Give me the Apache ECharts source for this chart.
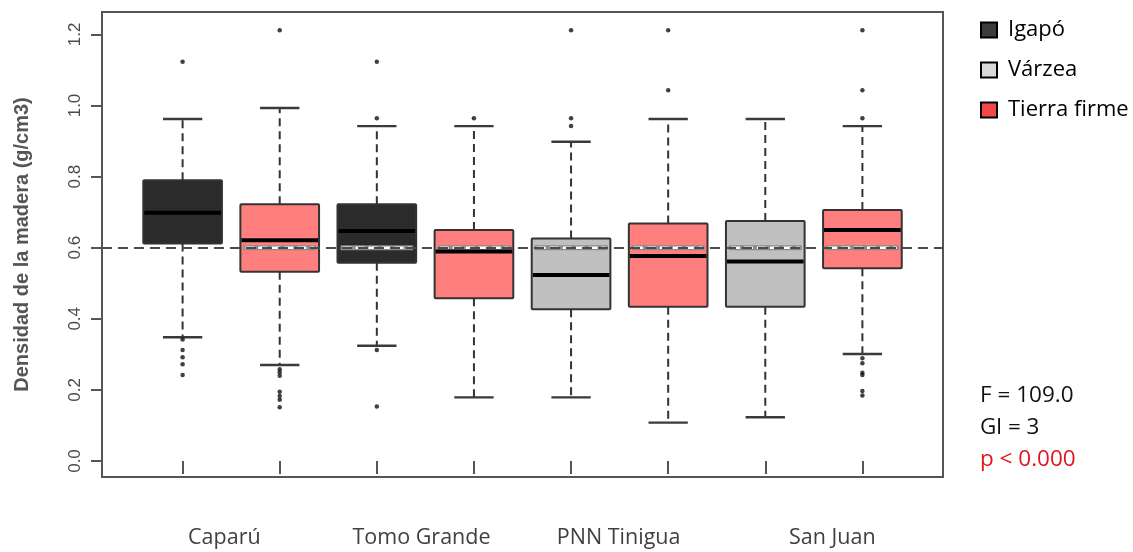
<!DOCTYPE html>
<html>
<head>
<meta charset="utf-8">
<script src="https://cdn.jsdelivr.net/npm/echarts@6/dist/echarts.min.js"></script>
<style>
html,body{margin:0;padding:0;background:#fff;}
#chart{width:1133px;height:552px;}
</style>
</head>
<body>
<div id="chart"></div>
<script>
// ---- data ----
const sites = ['Caparú', 'Tomo Grande', 'PNN Tinigua', 'San Juan'];
const habitats = ['Igapó', 'Várzea', 'Tierra firme'];
const boxPos = [1, 2, 3, 4, 5, 6, 7, 8];
const boxHabitat = ['Igapó', 'Tierra firme', 'Igapó', 'Tierra firme', 'Várzea', 'Tierra firme', 'Várzea', 'Tierra firme'];
const whiskerLow  = [0.348, 0.270, 0.324, 0.179, 0.179, 0.108, 0.123, 0.301];
const quart1      = [0.612, 0.532, 0.558, 0.458, 0.427, 0.434, 0.434, 0.542];
const medians     = [0.698, 0.621, 0.647, 0.589, 0.523, 0.577, 0.561, 0.650];
const quart3      = [0.790, 0.722, 0.722, 0.650, 0.626, 0.668, 0.675, 0.706];
const whiskerHigh = [0.962, 0.993, 0.942, 0.942, 0.898, 0.962, 0.962, 0.942];
const outliers = [
  [1.123, 0.342, 0.312, 0.292, 0.272, 0.242],
  [1.212, 0.258, 0.250, 0.240, 0.195, 0.183, 0.172, 0.151],
  [1.123, 0.964, 0.312, 0.153],
  [0.964],
  [1.212, 0.964, 0.942],
  [1.212, 1.043],
  [],
  [1.212, 1.043, 0.964, 0.289, 0.275, 0.248, 0.242, 0.197, 0.184]
];
const refValue = 0.6;
const yTicks = [0, 0.2, 0.4, 0.6, 0.8, 1.0, 1.2];
const statLines = ['F = 109.0', 'Gl = 3', 'p < 0.000'];

// ---- layout / style ----
const siteLabelPos = [1.43, 3.46, 5.49, 7.69];
const boxFill = { 'Igapó': '#2b2b2b', 'Várzea': '#c0c0c0', 'Tierra firme': '#ff7f7f' };
const legendFill = { 'Igapó': '#3c3c3c', 'Várzea': '#d9d9d9', 'Tierra firme': '#f24848' };
const statColors = ['#111', '#111', '#e3141c'];
const boxWex = 0.81;

function renderBox(params, api) {
  const x = api.value(0);
  const wlo = api.value(1), q1 = api.value(2), med = api.value(3), q3 = api.value(4), whi = api.value(5);
  const fill = boxFill[params.seriesName];
  const w = api.size([boxWex, 0])[0];
  const cx = api.coord([x, 0])[0];
  const yW1 = api.coord([x, wlo])[1];
  const yQ1 = api.coord([x, q1])[1];
  const yM = api.coord([x, med])[1];
  const yQ3 = api.coord([x, q3])[1];
  const yW2 = api.coord([x, whi])[1];
  const yR = api.coord([x, refValue])[1];
  const x0 = cx - w / 2, x1 = cx + w / 2;
  const sw = w / 4;
  const dash = { stroke: '#333', lineWidth: 2, lineDash: [8, 5] };
  const solid = { stroke: '#3a3a3a', lineWidth: 2.4 };
  const children = [
    { type: 'line', shape: { x1: cx, y1: yQ3, x2: cx, y2: yW2 }, style: dash },
    { type: 'line', shape: { x1: cx, y1: yQ1, x2: cx, y2: yW1 }, style: dash },
    { type: 'line', shape: { x1: cx - sw, y1: yW2, x2: cx + sw, y2: yW2 }, style: solid },
    { type: 'line', shape: { x1: cx - sw, y1: yW1, x2: cx + sw, y2: yW1 }, style: solid },
    { type: 'rect', shape: { x: x0, y: yQ3, width: w, height: yQ1 - yQ3, r: 1 },
      style: { fill: fill, stroke: '#333', lineWidth: 2 } }
  ];
  if (refValue >= q1 && refValue <= q3) {
    children.push({ type: 'line', shape: { x1: x0 + 3, y1: yR, x2: x1 - 3, y2: yR },
      style: { stroke: '#8a8a8a', lineWidth: 5 } });
    children.push({ type: 'line', shape: { x1: x0 + 5, y1: yR, x2: x1 - 5, y2: yR },
      style: { stroke: '#fff', lineWidth: 2.6, lineDash: [9, 4] } });
  }
  children.push({ type: 'line', shape: { x1: x0 + 1, y1: yM, x2: x1 - 1, y2: yM },
    style: { stroke: '#000', lineWidth: 4 } });
  return { type: 'group', children: children };
}

const series = habitats.map(function (h) {
  const data = [];
  boxPos.forEach(function (p, i) {
    if (boxHabitat[i] === h) data.push([p, whiskerLow[i], quart1[i], medians[i], quart3[i], whiskerHigh[i]]);
  });
  return {
    name: h, type: 'custom', z: 3, renderItem: renderBox, data: data,
    encode: { x: 0, y: [1, 2, 3, 4, 5] }, silent: true
  };
});

const outlierData = [];
boxPos.forEach(function (p, i) { outliers[i].forEach(function (v) { outlierData.push([p, v]); }); });
series.push({
  name: 'outliers', type: 'scatter', z: 4, symbol: 'circle', symbolSize: 4.5,
  itemStyle: { color: '#111' }, data: outlierData, silent: true
});
series.push({
  name: 'ref', type: 'line', z: 1, data: [], silent: true,
  markLine: {
    silent: true, symbol: ['none', 'none'], label: { show: false },
    lineStyle: { color: '#4a4a4a', width: 2, type: [10, 6] },
    emphasis: { disabled: true },
    data: [{ yAxis: refValue }]
  }
});

const chart = echarts.init(document.getElementById('chart'), null, { renderer: 'canvas' });
chart.setOption({
  animation: false,
  backgroundColor: '#fff',
  grid: { left: 102, right: 190, top: 12, bottom: 75, show: true, borderColor: '#555', borderWidth: 2, backgroundColor: 'transparent' },
  xAxis: {
    type: 'value', min: 0.17, max: 8.83,
    splitLine: { show: false },
    axisLine: { show: false },
    axisTick: { show: true, length: 13, customValues: boxPos, lineStyle: { color: '#555', width: 2 } },
    axisLabel: {
      show: true, customValues: siteLabelPos, margin: 50,
      fontFamily: 'Open Sans', fontSize: 21.5, color: '#404040',
      formatter: function (v) {
        let best = 0;
        siteLabelPos.forEach(function (p, i) { if (Math.abs(p - v) < Math.abs(siteLabelPos[best] - v)) best = i; });
        return sites[best];
      }
    }
  },
  yAxis: {
    type: 'value', min: -0.045, max: 1.263,
    splitLine: { show: false },
    axisLine: { show: false },
    axisTick: { show: true, length: 11, customValues: yTicks, lineStyle: { color: '#555', width: 2 } },
    axisLabel: {
      show: true, customValues: yTicks, rotate: 90, margin: 18,
      fontFamily: 'Liberation Sans', fontSize: 17, color: '#4a4a4a',
      formatter: function (v) { return v.toFixed(1); }
    },
    name: 'Densidad de la madera (g/cm3)', nameLocation: 'middle', nameGap: 70, nameRotate: 90,
    nameTextStyle: { fontFamily: 'Liberation Sans', fontSize: 20, fontWeight: 'bold', color: '#555' }
  },
  legend: {
    orient: 'vertical', left: 980, top: 19, padding: 0, icon: 'rect', itemWidth: 16, itemHeight: 15, itemGap: 18,
    selectedMode: false,
    textStyle: { fontFamily: 'Open Sans', fontSize: 22, color: '#000', padding: [0, 0, 0, 6] },
    data: habitats.map(function (h) {
      return { name: h, itemStyle: { color: legendFill[h], borderColor: '#000', borderWidth: 2 } };
    })
  },
  graphic: statLines.map(function (t, i) {
    return { type: 'text', left: 980, top: 384 + i * 32,
      style: { text: t, fontFamily: 'Open Sans', fontSize: 22.5, fill: statColors[i] } };
  }),
  series: series
});
</script>
</body>
</html>
